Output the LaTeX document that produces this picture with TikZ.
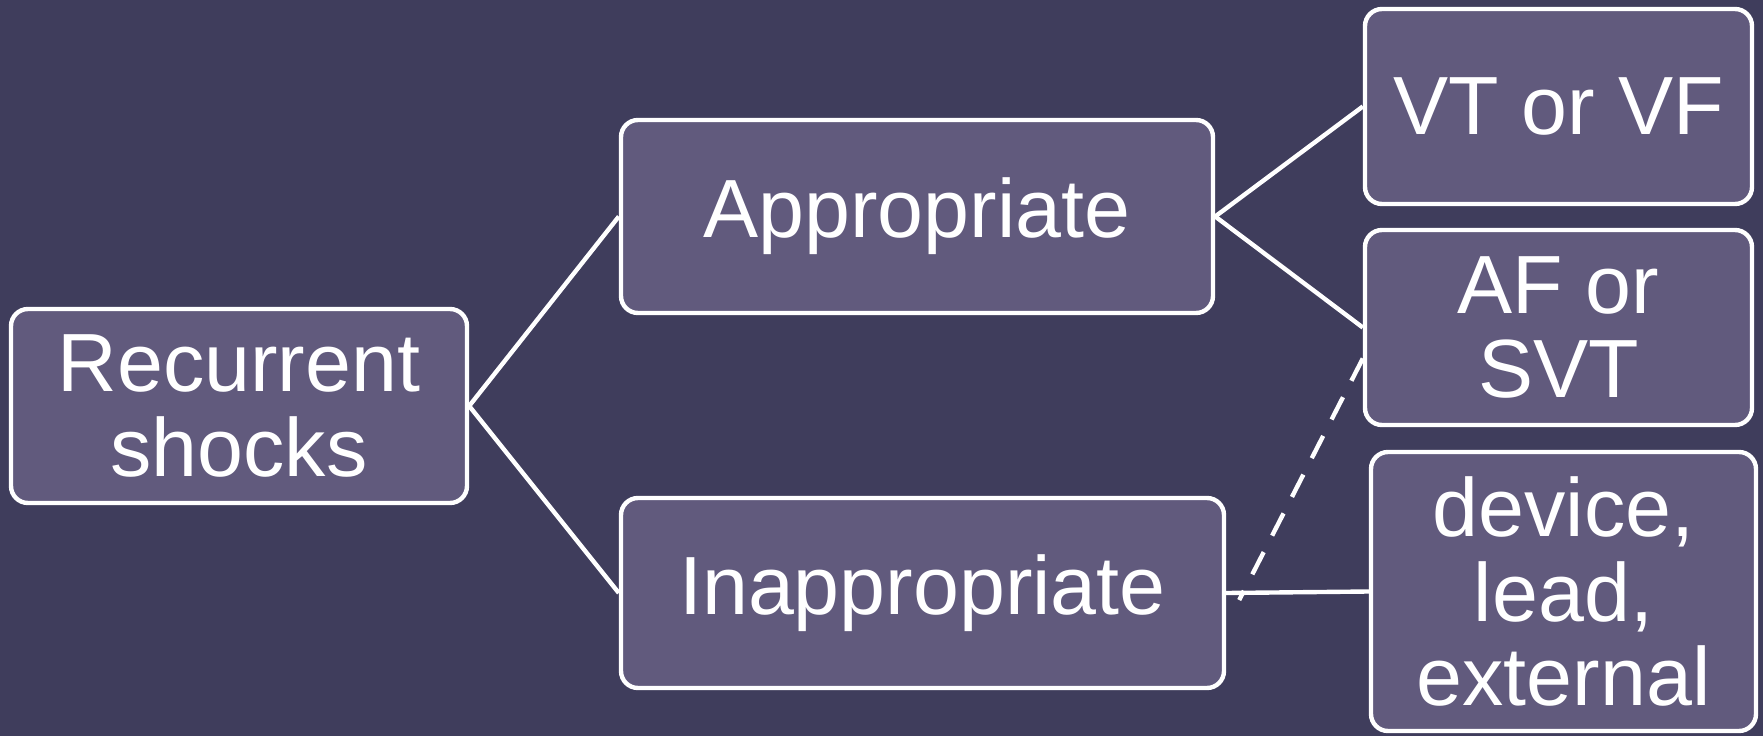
\documentclass[tikz,border=0pt]{standalone}
\usepackage{fontspec}
\setmainfont{Liberation Sans}
\usepackage{xcolor}
\usetikzlibrary{arrows.meta}

\definecolor{bgpurple}{RGB}{63,61,92}
\definecolor{boxpurple}{RGB}{97,90,125}

\begin{document}
\begin{tikzpicture}[
    block/.style={rectangle, draw=white, line width=2.5pt, rounded corners=0.34cm, fill=boxpurple, text=white, align=center, inner sep=0pt, font=\fontsize{47}{48}\selectfont},
    link/.style={draw=white, line width=2.5pt},
]
    % background and margins
    \fill[bgpurple] (0,0) rectangle (35.26,-14.72);
    \useasboundingbox (0,0) rectangle (35.26,-14.72);

    \node[block, minimum width=9.12cm, minimum height=3.88cm] (rec) at (4.78,-8.12) {Recurrent\\shocks};
    \node[block, minimum width=11.84cm, minimum height=3.86cm] (app) at (18.34,-4.33) {Appropriate};
    \node[block, minimum width=12.06cm, minimum height=3.80cm] (inapp) at (18.45,-11.86) {Inappropriate};
    \node[block, minimum width=7.74cm, minimum height=3.90cm] (vt) at (31.17,-2.13) {VT or VF};
    \node[block, minimum width=7.74cm, minimum height=3.90cm] (af) at (31.17,-6.55) {AF or\\SVT};
    \node[block, minimum width=7.70cm, minimum height=5.58cm] (dev) at (31.27,-11.83) {device,\\lead,\\external};

    \draw[link] (rec.east) -- (app.west);
    \draw[link] (rec.east) -- (inapp.west);
    \draw[link] (app.east) -- (vt.west);
    \draw[link] (app.east) -- (af.west);
    \draw[link] (inapp.east) -- (dev.west);
    \draw[link, dashed, dash pattern=on 0.5cm off 0.37cm] (af.189) -- ([xshift=0.26cm, yshift=-0.14cm]inapp.east);
\end{tikzpicture}
\end{document}
